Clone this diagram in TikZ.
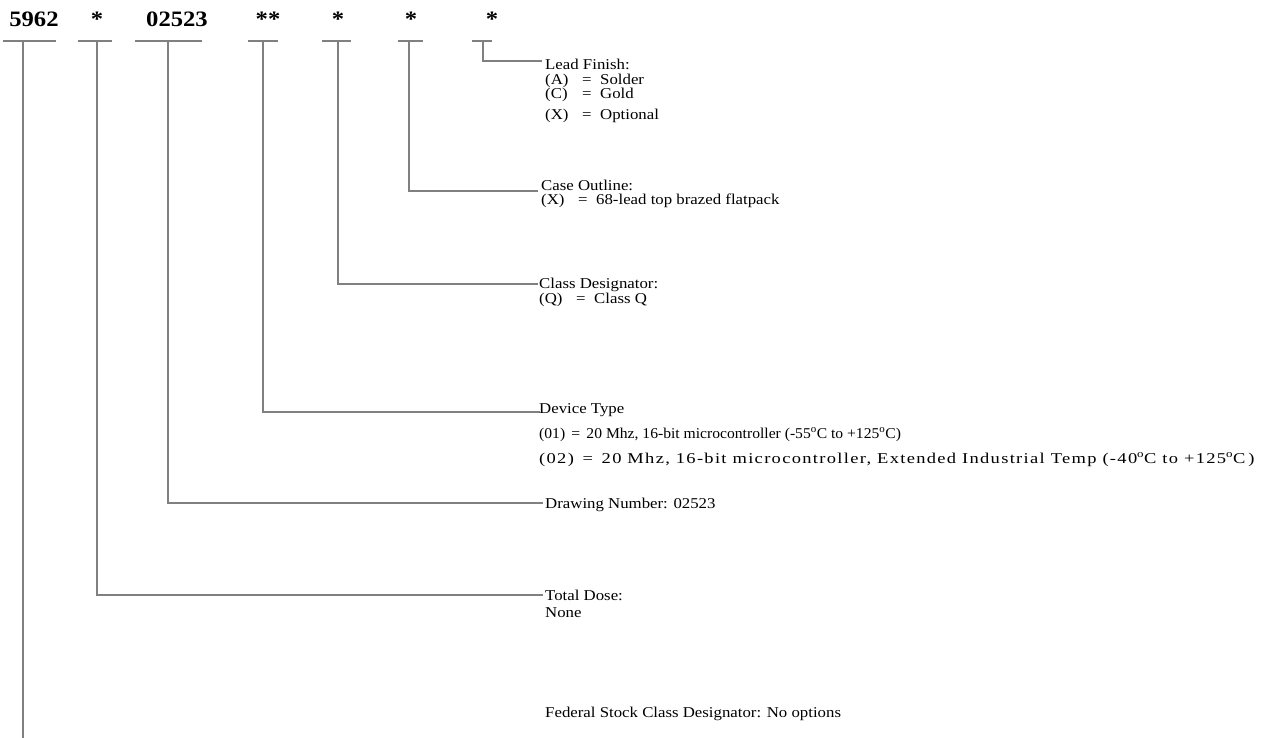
\documentclass[tikz,border=0pt]{standalone}
\usepackage{fontspec}
\setmainfont{Liberation Serif}[FakeStretch=1.12]
\begin{document}
\begin{tikzpicture}[x=1pt,y=-1pt,
  lead/.style={draw=black!50, line width=2pt},
  title/.style={font=\fontsize{22}{22}\selectfont\bfseries, inner sep=0, anchor=base},
  txt/.style={font=\fontsize{15}{15}\selectfont, anchor=base west, inner sep=0}]
\useasboundingbox (0,0) rectangle (1272,738);
% title
\node[title] (t1) at (34,27) {5962};
\node[title] (t2) at (97,27) {*};
\node[title] (t3) at (177,27) {02523};
\node[title] (t4) at (268,27) {**};
\node[title] (t5) at (338,27) {*};
\node[title] (t6) at (411,27) {*};
\node[title] (t7) at (492,27) {*};
% bars
\draw[lead] (3,41.5) -- (56,41.5);
\draw[lead] (78,41.5) -- (112,41.5);
\draw[lead] (135,41.5) -- (202,41.5);
\draw[lead] (248,41.5) -- (278,41.5);
\draw[lead] (322,41.5) -- (351,41.5);
\draw[lead] (398,41.5) -- (423,41.5);
\draw[lead] (472,41.5) -- (492,41.5);
\coordinate (b1) at (23,41.5);
\coordinate (b2) at (97,41.5);
\coordinate (b3) at (168,41.5);
\coordinate (b4) at (263,41.5);
\coordinate (b5) at (338,41.5);
\coordinate (b6) at (409,41.5);
\coordinate (b7) at (483,41.5);
\coordinate (e1) at (23,738);
\coordinate (e2) at (543,595);
\coordinate (e3) at (543,503);
\coordinate (e4) at (540,412);
\coordinate (e5) at (538,284);
\coordinate (e6) at (538,191);
\coordinate (e7) at (542,61);
\draw[lead] (b1) -- (e1);
\draw[lead] (b2) |- (e2);
\draw[lead] (b3) |- (e3);
\draw[lead] (b4) |- (e4);
\draw[lead] (b5) |- (e5);
\draw[lead] (b6) |- (e6);
\draw[lead] (b7) |- (e7);
% texts
\node[txt] (lf) at (545,70) {Lead Finish:};
\node[txt] (lfa) at (545,85) {\makebox[37pt][l]{(A)}\makebox[18pt][l]{=}Solder};
\node[txt] (lfc) at (545,99) {\makebox[37pt][l]{(C)}\makebox[18pt][l]{=}Gold};
\node[txt] (lfx) at (545,120) {\makebox[37pt][l]{(X)}\makebox[18pt][l]{=}Optional};
\node[txt] (co) at (541,191) {Case Outline:};
\node[txt] (cox) at (541,205) {\makebox[37pt][l]{(X)}\makebox[18pt][l]{=}68-lead top brazed flatpack};
\node[txt] (cd) at (539,288) {Class Designator:};
\node[txt] (cdq) at (539,303) {\makebox[37pt][l]{(Q)}\makebox[18pt][l]{=}Class Q};
\node[txt] (dt) at (539,413) {Device Type};
\node[txt] (dt1) at (539,438) {\scalebox{0.93}[1]{(01) \,=\, 20 Mhz, 16-bit microcontroller (-55\textsuperscript{o}C to +125\textsuperscript{o}C)}};
\node[txt] (dt2) at (539,463) {\scalebox{1.1}[1]{\addfontfeature{LetterSpace=8}(02) \,=\, 20 Mhz, 16-bit microcontroller, Extended Industrial Temp (-40\textsuperscript{o}C to +125\textsuperscript{o}C\,)}};
\node[txt] (dn) at (545,508) {Drawing Number: 02523};
\node[txt] (td) at (545,600) {Total Dose:};
\node[txt] (tdn) at (545,617) {None};
\node[txt] (fs) at (545,717) {Federal Stock Class Designator: No options};
\end{tikzpicture}
\end{document}
